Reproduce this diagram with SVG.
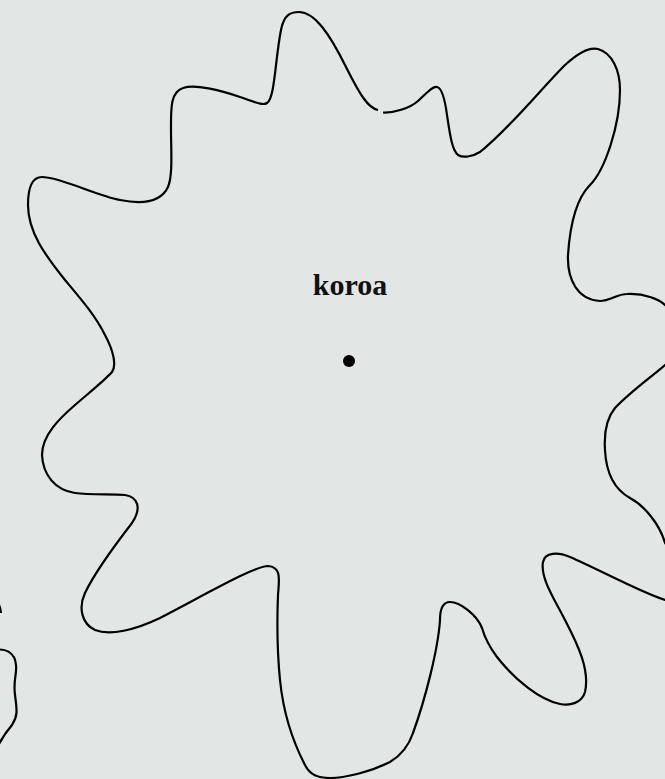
<svg xmlns="http://www.w3.org/2000/svg" width="665" height="779" viewBox="0 0 665 779">
<style>
.bg{fill:#e2e6e5}
.ln{fill:none;stroke:#000;stroke-width:2.2;stroke-linecap:butt;stroke-linejoin:round}
.lbl{font-family:"Liberation Serif","DejaVu Serif",serif;font-weight:bold;font-size:30px;fill:#111}
</style>
<rect class="bg" x="0" y="0" width="665" height="779"/>
<g id="connectors">
<path class="ln" d="M383,112.5 C395,113 410,108 418,101 C426,94 432,86 437,87 C442,88 445,100 447,115 C450,135 452,150 458,155 C463,158 472,157 480,152 C510,128 540,90 565,65 C578,53 590,47 598,49 C612,53 620,70 620,90 C620,125 605,170 590,185 C577,198 570,225 568,255 C567,280 578,300 600,301 C610,301 617,294 627,294 C645,293 660,300 665,305 C690,320 690,350 665,365 C650,378 630,392 615,408 C605,420 604,435 605,450 C606,470 612,488 630,498 C645,506 660,525 665,543 C680,560 685,590 665,600 C640,592 600,570 570,557 C558,552 545,552 543,562 C540,578 555,600 565,620 C578,645 590,670 585,692 C582,703 570,706 560,704 C540,700 515,680 497,657 C488,645 484,635 482,628 C477,615 460,602 450,602 C442,602 440,610 440,620 C438,650 425,700 413,733 C408,748 400,756 390,762 C370,772 345,778 330,778 C318,778 310,775 305,765 C292,740 283,710 280,680 C277,650 277,620 278,595 C279,580 282,567 268,566 C255,566 210,592 160,618 C135,630 110,636 95,630 C82,624 78,608 85,593 C95,572 115,545 132,523 C142,508 138,497 125,495 C110,494 90,495 75,493 C55,490 43,475 42,455 C42,435 60,418 75,405 C90,392 105,380 112,372 C117,365 113,350 105,335 C95,315 80,298 65,280 C45,255 28,232 28,205 C28,188 32,177 42,177 C60,177 95,195 120,200 C140,204 160,204 168,187 C173,175 171,150 171,130 C171,110 170,92 183,88 C195,84 220,90 240,97 C255,102 263,106 267,103 C275,98 275,60 281,30 C284,15 290,12 299,12 C315,12 330,35 345,65 C360,95 368,108 378,110"/>
<path class="ln" d="M-4,600 Q0,604 1,613"/>
<path class="ln" d="M-5,650 C5,648 15,652 16,665 C17,675 13,680 15,695 C17,710 18,716 12,725 C6,732 2,738 -2,746"/>
</g>
<g id="center">
<text class="lbl" x="350" y="295" text-anchor="middle">koroa</text>
<circle cx="349" cy="361" r="6" fill="#000"/>
</g>
</svg>
